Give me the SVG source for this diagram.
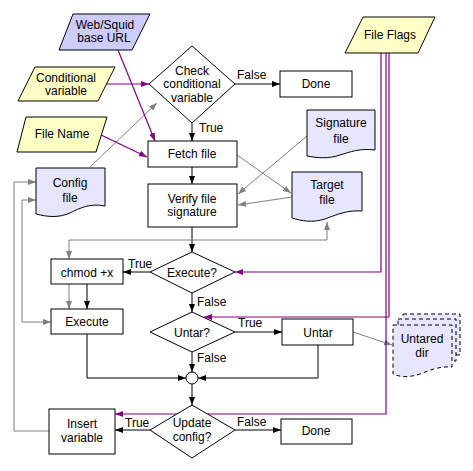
<svg xmlns="http://www.w3.org/2000/svg" width="473" height="471" viewBox="0 0 473 471">
<defs>
<style>
text{font-family:"Liberation Sans",Arial,sans-serif;font-size:12px;fill:#000}
.c{text-anchor:middle}
.box{fill:#fff;stroke:#000;stroke-width:1}
.yel{fill:#ffffc6;stroke:#000;stroke-width:1}
.blu{fill:#ccccff;stroke:#000;stroke-width:1}
.doc{fill:#e6e6ff;stroke:#000;stroke-width:1}
.dash{fill:#e6e6ff;stroke:#000;stroke-width:1;stroke-dasharray:4,3}
.k{fill:none;stroke:#000;stroke-width:1}
.g{fill:none;stroke:#808080;stroke-width:1}
.p{fill:none;stroke:#800080;stroke-width:1.2}
</style>
<marker id="ak" viewBox="0 0 8 6" refX="8" refY="3" markerWidth="8" markerHeight="6" markerUnits="userSpaceOnUse" orient="auto-start-reverse"><path d="M0,0 L8,3 L0,6 z" fill="#000"/></marker>
<marker id="ag" viewBox="0 0 8 6" refX="8" refY="3" markerWidth="8" markerHeight="6" markerUnits="userSpaceOnUse" orient="auto-start-reverse"><path d="M0,0 L8,3 L0,6 z" fill="#808080"/></marker>
<marker id="ap" viewBox="0 0 8 6" refX="8" refY="3" markerWidth="8" markerHeight="6" markerUnits="userSpaceOnUse" orient="auto-start-reverse"><path d="M0,0 L8,3 L0,6 z" fill="#800080"/></marker>
</defs>
<rect width="473" height="471" fill="#fff"/>

<g id="connectors">
<!-- black flow -->
<path class="k" d="M192,123 V141" marker-end="url(#ak)"/>
<path class="k" d="M235,84 H280" marker-end="url(#ak)"/>
<path class="k" d="M192,167 V184" marker-end="url(#ak)"/>
<path class="k" d="M192,227 V252" marker-end="url(#ak)"/>
<path class="k" d="M150,272 H123" marker-end="url(#ak)"/>
<path class="k" d="M192,293 V312" marker-end="url(#ak)"/>
<path class="k" d="M87,284 V309" marker-end="url(#ak)"/>
<path class="k" d="M235,332 H282" marker-end="url(#ak)"/>
<path class="k" d="M192,352 V372" marker-end="url(#ak)"/>
<path class="k" d="M87,334 V378 H186" marker-end="url(#ak)"/>
<path class="k" d="M318,345 V378 H198" marker-end="url(#ak)"/>
<path class="k" d="M192,384 V405" marker-end="url(#ak)"/>
<path class="k" d="M150,430 H115" marker-end="url(#ak)"/>
<path class="k" d="M235,430 H281" marker-end="url(#ak)"/>
<!-- gray data -->
<path class="g" d="M90,167 L157,103" marker-end="url(#ag)"/>
<path class="g" d="M237,155 L291,193" marker-end="url(#ag)"/>
<path class="g" d="M307,136 L238,194" marker-end="url(#ag)"/>
<path class="g" d="M292,197 L238,205" marker-end="url(#ag)"/>
<path class="g" d="M327,222 V240 H69 V259" marker-start="url(#ag)" marker-end="url(#ag)"/>
<path class="g" d="M69,284 V309" marker-end="url(#ag)"/>
<path class="g" d="M49,431 H14 V182 H36" marker-end="url(#ag)"/>
<path class="g" d="M51,322 H22 V200 H36" marker-start="url(#ag)" marker-end="url(#ag)"/>
<path class="g" d="M353,332 L392,345" marker-end="url(#ag)"/>
<!-- purple inputs -->
<path class="p" d="M118,50 L155,141" marker-end="url(#ap)"/>
<path class="p" d="M105,84 H149" marker-end="url(#ap)"/>
<path class="p" d="M99,134 L147,157" marker-end="url(#ap)"/>
<path class="p" d="M381,53 V272 H235" marker-end="url(#ap)"/>
<path class="p" d="M386,53 V414 H115" marker-end="url(#ap)"/>
<path class="p" d="M389,53 V317 H204" marker-end="url(#ap)"/>
<!-- labels -->
<text x="199" y="132">True</text>
<text x="237" y="79">False</text>
<text x="128" y="268">True</text>
<text x="197" y="306">False</text>
<text x="238" y="327">True</text>
<text x="197" y="362">False</text>
<text x="125" y="427">True</text>
<text x="237" y="426">False</text>
<circle cx="192" cy="378" r="6" fill="#fff" stroke="#000"/>
</g>

<g id="web-squid"><polygon class="blu" points="73,14 150,14 132,50 59,50"/><text class="c" x="105" y="29">Web/Squid</text><text class="c" x="104" y="42">base URL</text></g>
<g id="conditional-variable"><polygon class="yel" points="35,67 115,67 98,101 18,101"/><text class="c" x="66" y="82">Conditional</text><text class="c" x="66" y="95">variable</text></g>
<g id="file-name"><polygon class="yel" points="26,117 107,117 96,152 17,152"/><text class="c" x="62" y="138">File Name</text></g>
<g id="file-flags"><polygon class="yel" points="363,17 435,17 418,53 345,53"/><text class="c" x="390" y="39">File Flags</text></g>

<g id="check"><polygon class="box" points="192,46 235,84 192,123 149,84"/><text class="c" x="192" y="75">Check</text><text class="c" x="192" y="88">conditional</text><text class="c" x="192" y="102">variable</text></g>
<g id="done1"><rect class="box" x="280" y="71" width="72" height="26"/><text class="c" x="316" y="88">Done</text></g>
<g id="signature-file"><path class="doc" d="M307,110 H375 V150 C360,148 350,152 340,155 C328,159 318,158 307,156 Z"/><text class="c" x="341" y="127">Signature</text><text class="c" x="341" y="143">file</text></g>
<g id="fetch"><rect class="box" x="148" y="141" width="89" height="26"/><text class="c" x="192" y="158">Fetch file</text></g>
<g id="config-file"><path class="doc" d="M36,168 H105 V206 C90,203 80,208 70,213 C58,218 48,217 36,214 Z"/><text class="c" x="70" y="187">Config</text><text class="c" x="70" y="202">file</text></g>
<g id="verify"><rect class="box" x="148" y="184" width="89" height="43"/><text class="c" x="192" y="203">Verify file</text><text class="c" x="192" y="216">signature</text></g>
<g id="target-file"><path class="doc" d="M292,172 H362 V211 C348,210 338,214 325,219 C312,223 302,221 292,218 Z"/><text class="c" x="327" y="189">Target</text><text class="c" x="327" y="204">file</text></g>
<g id="execute-q"><polygon class="box" points="192,252 235,272 192,293 150,272"/><text class="c" x="192" y="277">Execute?</text></g>
<g id="chmod"><rect class="box" x="51" y="259" width="72" height="25"/><text class="c" x="87" y="277">chmod +x</text></g>
<g id="execute"><rect class="box" x="51" y="309" width="72" height="25"/><text class="c" x="87" y="326">Execute</text></g>
<g id="untar-q"><polygon class="box" points="192,312 235,332 192,352 150,332"/><text class="c" x="192" y="337">Untar?</text></g>
<g id="untar"><rect class="box" x="282" y="319" width="71" height="26"/><text class="c" x="318" y="337">Untar</text></g>
<g id="untared-dir">
<path class="dash" d="M403,314 H460 V355 C450,354 440,358 430,362 C420,366 412,365 403,362 Z"/>
<path class="dash" d="M398,319 H456 V361 C445,360 435,364 425,368 C414,372 406,371 398,368 Z"/>
<path class="dash" d="M393,325 H452 V367 C440,366 430,370 420,374 C408,378 400,377 393,374 Z"/>
<text class="c" x="422" y="343">Untared</text><text class="c" x="422" y="357">dir</text></g>
<g id="update-q"><polygon class="box" points="192,405 235,430 192,458 150,430"/><text class="c" x="192" y="427">Update</text><text class="c" x="192" y="441">config?</text></g>
<g id="insert"><rect class="box" x="49" y="409" width="66" height="45"/><text class="c" x="82" y="428">Insert</text><text class="c" x="82" y="442">variable</text></g>
<g id="done2"><rect class="box" x="281" y="419" width="71" height="25"/><text class="c" x="316" y="435">Done</text></g>
</svg>
